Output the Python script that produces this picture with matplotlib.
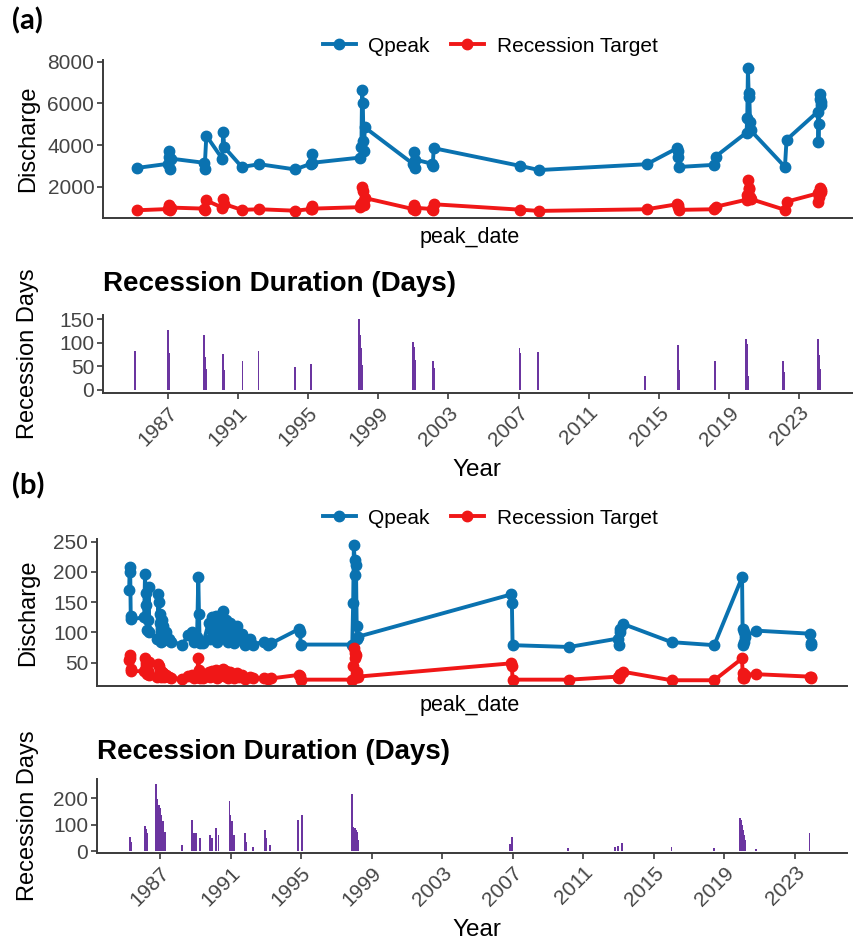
import matplotlib
matplotlib.use("Agg")
import matplotlib.pyplot as plt

plt.rcParams['font.family'] = ['Liberation Sans', 'DejaVu Sans']

# ---- (a) peak discharge and recession target ----
a_dates = [1985.23,
           1987.01, 1987.05, 1987.09, 1987.13, 1987.17,
           1989.06, 1989.10, 1989.20,
           1990.10, 1990.16, 1990.22,
           1991.22, 1992.23, 1994.26,
           1995.15, 1995.20, 1995.25,
           1997.98, 1998.04, 1998.08, 1998.12, 1998.16, 1998.19, 1998.23,
           2000.98, 2001.02, 2001.07, 2001.12,
           2002.07, 2002.11, 2002.16,
           2007.09, 2008.17, 2014.31,
           2016.04, 2016.08, 2016.12, 2016.17,
           2018.15, 2018.24,
           2020.00, 2020.04, 2020.08, 2020.12, 2020.16, 2020.20, 2020.24,
           2022.19, 2022.28,
           2024.06, 2024.10, 2024.13, 2024.17, 2024.20, 2024.23, 2024.27]
a_qpeak = [2900,
           3100, 3700, 3450, 2850, 3350,
           3150, 2850, 4450,
           3350, 4620, 3900,
           2950, 3080, 2830,
           3100, 3550, 3150,
           3400, 3900, 6640, 6000, 4200, 3700, 4850,
           3100, 3650, 2900, 3300,
           3100, 3000, 3850,
           3000, 2800, 3080,
           3850, 3700, 3450, 2950,
           3050, 3450,
           4600, 5300, 7700, 6500, 6300, 5100, 4700,
           2950, 4250,
           5600, 4150, 5000, 6450, 6200, 5900, 6050]
a_target = [870,
            930, 1110, 1040, 860, 1000,
            950, 860, 1340,
            1000, 1390, 1170,
            890, 920, 850,
            930, 1070, 950,
            1020, 1170, 1990, 1800, 1260, 1110, 1460,
            930, 1100, 870, 990,
            930, 900, 1160,
            900, 840, 920,
            1160, 1110, 1040, 890,
            920, 1040,
            1380, 1590, 2310, 1950, 1890, 1530, 1410,
            890, 1280,
            1680, 1250, 1500, 1940, 1860, 1770, 1820]

# ---- (a) recession duration ----
a_bar_dates = [1985.13,
               1987.00, 1987.04, 1987.08,
               1989.05, 1989.09, 1989.13, 1989.17,
               1990.17, 1990.22,
               1991.26, 1992.17, 1994.26, 1995.16,
               1997.92, 1997.97, 1998.01, 1998.05, 1998.09,
               2001.00, 2001.04, 2001.08,
               2002.14, 2002.18,
               2007.05, 2007.09, 2008.09, 2014.21,
               2016.11, 2016.15, 2018.20,
               2019.97, 2020.01, 2020.05, 2020.09,
               2022.10, 2022.14,
               2024.09, 2024.13, 2024.17, 2024.21]
a_bar_days = [83,
              127, 82, 78,
              116, 112, 70, 45,
              77, 42,
              62, 83, 49, 55,
              151, 116, 88, 67, 53,
              102, 91, 63,
              61, 46,
              88, 79, 80, 30,
              95, 42, 61,
              107, 98, 63, 30,
              61, 39,
              107, 74, 45, 18]

# ---- (b) peak discharge and recession target ----
b_dates = [1985.25, 1985.28, 1985.31, 1985.34, 1985.38,
           1986.10, 1986.15, 1986.19, 1986.23, 1986.27, 1986.31, 1986.35, 1986.40,
           1986.85, 1986.90, 1986.94, 1986.98, 1987.02, 1987.06, 1987.10, 1987.14, 1987.18, 1987.22,
           1987.35, 1987.50, 1987.60,
           1988.25, 1988.60, 1988.80, 1988.95,
           1989.10, 1989.17, 1989.21, 1989.25, 1989.45,
           1989.75, 1989.85, 1989.95, 1990.05, 1990.15, 1990.25, 1990.40, 1990.55,
           1990.65, 1990.75, 1990.85, 1990.95, 1991.10, 1991.20, 1991.35, 1991.50,
           1991.65, 1991.80, 1992.10, 1992.30, 1992.90, 1993.10, 1993.30,
           1994.90, 1994.94, 1994.98,
           1997.90, 1997.95, 1997.99, 1998.03, 1998.07, 1998.11, 1998.15, 1998.19, 1998.23,
           2006.92, 2006.95, 2006.99,
           2010.20,
           2012.98, 2013.02, 2013.06, 2013.10, 2013.26,
           2016.00, 2018.42,
           2020.00, 2020.03, 2020.06, 2020.09, 2020.12, 2020.15,
           2020.81,
           2023.85, 2023.89, 2023.93]
b_qpeak = [170, 208, 200, 127, 122,
           125, 196, 165, 145, 104, 120, 175, 100,
           90, 163, 150, 115, 130, 85, 120, 95, 110, 88,
           100, 90, 85,
           80, 95, 100, 85,
           92, 192, 130, 82, 82,
           115, 90, 125, 100, 128, 85, 110, 135,
           95, 120, 85, 115, 100, 82, 110, 90,
           98, 80, 90, 80, 85, 80, 82,
           106, 100, 80,
           80, 148, 245, 220, 195, 211, 111, 89, 93,
           163, 148, 79,
           76,
           90, 79, 101, 106, 114,
           84, 79,
           191, 106, 79, 100, 85, 93,
           103,
           98, 82, 79]
b_target = [55, 63, 58, 40, 36,
            36, 58, 50, 45, 32, 37, 52, 30,
            27, 48, 44, 34, 38, 26, 35, 28, 33, 26,
            30, 27, 25,
            23, 28, 30, 25,
            27, 57, 38, 24, 24,
            34, 27, 37, 30, 38, 25, 33, 40,
            28, 36, 25, 34, 30, 24, 33, 27,
            29, 23, 27, 24, 25, 23, 24,
            30, 28, 22,
            22, 45, 74, 66, 58, 63, 34, 26, 27,
            49, 44, 22,
            22,
            27, 24, 32, 30, 35,
            21, 21,
            57, 33, 25, 28, 24, 30,
            31,
            27, 26, 25]

# ---- (b) recession duration ----
b_bar_dates = [1985.30, 1985.34,
               1986.15, 1986.19, 1986.23, 1986.27,
               1986.77, 1986.85, 1986.93, 1987.00, 1987.08, 1987.18, 1987.30,
               1988.25,
               1988.80, 1988.92, 1989.04, 1989.27,
               1989.83, 1989.93, 1990.17, 1990.31,
               1990.94, 1991.00, 1991.06, 1991.19,
               1991.82, 1991.86, 1992.29,
               1992.95, 1993.00, 1993.24,
               1994.84, 1995.03,
               1997.87, 1997.93, 1997.99, 1998.05, 1998.11, 1998.17, 1998.23,
               2006.84, 2006.97, 2010.15,
               2012.80, 2012.98, 2013.20,
               2016.00, 2018.40,
               2019.90, 2019.95, 2020.00, 2020.05, 2020.10, 2020.15, 2020.20,
               2020.80, 2023.83]
b_bar_days = [54, 36,
              95, 83, 78, 70,
              255, 199, 175, 163, 137, 112, 73,
              23,
              118, 70, 67, 48,
              60, 48, 86, 60,
              191, 137, 112, 60,
              67, 36, 17,
              80, 48, 23,
              118, 137,
              216, 92, 88, 86, 80, 73, 41,
              26, 54, 12,
              14, 20, 30,
              15, 12,
              124, 118, 99, 80, 61, 42, 23,
              8, 67]

year_ticks = list(range(1987, 2024, 4))

blue = "#0a72b0"
red = "#f01717"
purple = "#6b35a0"
axis_col = "#3a3a3a"
tick_col = "#444444"

W, H = 854, 940
fig = plt.figure(figsize=(W / 100, H / 100), dpi=100)


def px_axes(x0, y0, x1, y1):
    return fig.add_axes([x0 / W, 1 - y1 / H, (x1 - x0) / W, (y1 - y0) / H])


def style(ax):
    for s in ["top", "right"]:
        ax.spines[s].set_visible(False)
    for s in ["left", "bottom"]:
        ax.spines[s].set_color(axis_col)
        ax.spines[s].set_linewidth(1.4)
    ax.tick_params(axis="y", colors=axis_col, labelcolor=tick_col, labelsize=15,
                   length=4, width=1.2, pad=2)
    ax.patch.set_alpha(0)


def discharge_panel(box, xlim, ylim, yticks, dates, q, target, tag, tag_y, leg_y, lab_x):
    ax = px_axes(*box)
    style(ax)
    ax.plot(dates, q, color=blue, lw=2.8, marker="o", ms=7.5, label="Qpeak")
    ax.plot(dates, target, color=red, lw=2.8, marker="o", ms=7.5, label="Recession Target")
    ax.set_xlim(*xlim)
    ax.set_ylim(*ylim)
    ax.set_yticks(yticks)
    ax.set_xticks([])
    ax.legend(loc="center", bbox_to_anchor=(490 / W, 1 - leg_y / H),
              bbox_transform=fig.transFigure, ncol=2, frameon=False,
              fontsize=15, handlelength=1.6, handletextpad=0.6, columnspacing=1.0)
    yc = (box[1] + box[3]) / 2
    fig.text(lab_x / W, 1 - yc / H, "Discharge", rotation=90, ha="center", va="center",
             fontsize=17)
    fig.text(470 / W, 1 - (box[3] + 19) / H, "peak_date", ha="center", va="center",
             fontsize=15.5)
    fig.text(12 / W, 1 - tag_y / H, tag, ha="left", va="center", fontsize=21,
             fontweight="bold", family=["Lato", "DejaVu Sans"])
    return ax


def duration_panel(box, xlim, ylim, yticks, dates, days, title_y, lab_x):
    ax = px_axes(*box)
    style(ax)
    ax.bar(dates, days, width=0.1, color=purple, linewidth=0)
    ax.set_xlim(*xlim)
    ax.set_ylim(*ylim)
    ax.set_yticks(yticks)
    ax.set_xticks(year_ticks)
    ax.set_xticklabels([str(y) for y in year_ticks], rotation=45, ha="right",
                       va="top", rotation_mode="anchor")
    ax.tick_params(axis="x", colors=axis_col, labelcolor=tick_col, labelsize=15,
                   length=4, width=1.2, pad=3)
    fig.text(box[0] / W, 1 - title_y / H, "Recession Duration (Days)", ha="left",
             va="center", fontsize=20, fontweight="bold")
    yc = (box[1] + box[3]) / 2
    fig.text(lab_x / W, 1 - yc / H, "Recession Days", rotation=90, ha="center",
             va="center", fontsize=17)
    fig.text(477 / W, 1 - (box[3] + 77) / H, "Year", ha="center", va="center", fontsize=17.5)
    return ax


discharge_panel((102.7, 60, 853, 218), (1983.29, 2026.07), (500, 8080),
                [2000, 4000, 6000, 8000], a_dates, a_qpeak, a_target,
                "(a)", 21, 46, 28)
duration_panel((102.7, 315, 853, 393.3), (1983.29, 2026.07), (-7, 158.5),
               [0, 50, 100, 150], a_bar_dates, a_bar_days, 284, 28)

discharge_panel((96.7, 539, 847, 686), (1983.41, 2025.95), (11.5, 254.5),
                [50, 100, 150, 200, 250], b_dates, b_qpeak, b_target,
                "(b)", 486, 518, 28)
duration_panel((96.7, 779, 847, 853.3), (1983.41, 2025.95), (-8.7, 273),
               [0, 100, 200], b_bar_dates, b_bar_days, 752, 28)

fig.savefig("out.png", dpi=100)
